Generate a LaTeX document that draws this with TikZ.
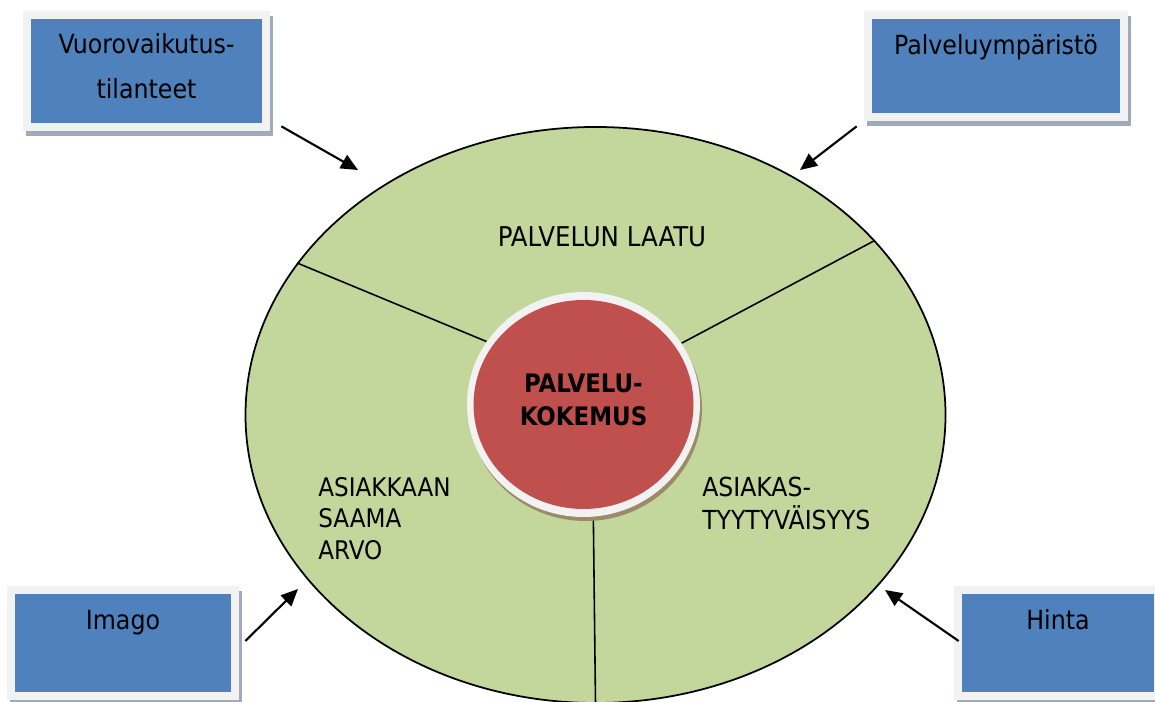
\documentclass[tikz,border=0pt]{standalone}
\usepackage{fontspec}
\setmainfont{DejaVu Sans Condensed}
\usepackage{xcolor}
\usepackage{tikz}
\usetikzlibrary{positioning, arrows.meta, shapes.geometric, shadows, backgrounds}
\definecolor{boxBlue}{HTML}{4F81BD}
\definecolor{frameGray}{HTML}{F2F2F2}
\definecolor{boxShade}{HTML}{A0AABA}
\definecolor{ovalGreen}{HTML}{C3D69B}
\definecolor{coreRed}{HTML}{C0504D}
\definecolor{coreShade}{HTML}{9C8B6A}

\tikzset{
  factor/.style={fill=frameGray, inner sep=0pt, align=center,
    font=\fontsize{15}{25.5}\selectfont,
    drop shadow={shadow xshift=0.06cm, shadow yshift=-0.11cm, fill=boxShade, opacity=1},
    path picture={\fill[boxBlue] ([shift={(0.16cm,0.16cm)}]path picture bounding box.south west)
      rectangle ([shift={(-0.16cm,-0.16cm)}]path picture bounding box.north east);}},
  part/.style={inner sep=0pt, align=left},
  arr/.style={-{Triangle[length=0.34cm, width=0.3cm]}, line width=1.2pt},
}

\begin{document}
\begin{tikzpicture}
        \useasboundingbox (0,0) rectangle (23.1,14.04);
        % Core — PALVELUKOKEMUS
        \node[ellipse, fill=frameGray, minimum width=4.66cm, minimum height=4.5cm, inner sep=0pt,
          drop shadow={shadow xshift=0.04cm, shadow yshift=-0.08cm, fill=coreShade, opacity=1},
          path picture={\fill[coreRed] (path picture bounding box.center) ellipse [x radius=2.2cm, y radius=2.09cm];},
          align=center, text depth=0.2cm, font=\bfseries\fontsize{14.5}{18.7}\selectfont] (core) at (11.67,5.95) {PALVELU-\\KOKEMUS};
        % Oval and its three parts — behind the core
        \begin{pgfonlayer}{background}
          \node[ellipse, draw, line width=1pt, fill=ovalGreen, minimum width=14cm, minimum height=11.52cm,
            inner sep=0pt] (oval) at (11.91,5.74) {};
          \draw[line width=0.9pt] (oval.153) -- (core.147);
          \draw[line width=0.9pt] (oval.32.9) -- (core.32.4);
          \draw[line width=0.9pt] (oval.270.5) -- (core.275.5);
        \end{pgfonlayer}
        \node[part, anchor=base, font=\fontsize{15.5}{18}\selectfont] (laatu) at (12.04,9.10) {PALVELUN LAATU};
        \node[part, anchor=north west, font=\fontsize{14.6}{17.9}\selectfont] (arvo) at (6.36,4.5) {ASIAKKAAN\\SAAMA\\ARVO};
        \node[part, anchor=north west, font=\fontsize{14.9}{18.7}\selectfont] (tyyty) at (14.04,4.5) {ASIAKAS-\\TYYTYVÄISYYS};
        % Factors — corners
        \node[factor, minimum width=4.94cm, minimum height=2.4cm, text depth=0.2cm] (vuoro) at (2.93,12.62) {Vuorovaikutus-\\tilanteet};
        \node[factor, minimum width=5.28cm, minimum height=2.2cm, text height=0.3cm, text depth=0.74cm]
          (ymparisto) at (19.92,12.72) {Palveluympäristö};
        \node[factor, minimum width=4.64cm, minimum height=2.28cm, text height=0.3cm, text depth=0.82cm]
          (imago) at (2.46,1.18) {Imago};
        \node[factor, minimum width=4.16cm, minimum height=2.28cm, text height=0.3cm, text depth=0.82cm]
          (hinta) at (21.16,1.18) {Hinta};
        % Arrows into the oval
        \coordinate (tipVuoro) at (7.16,10.64);
        \coordinate (tipYmp) at (16.0,10.64);
        \coordinate (tipImago) at (5.96,2.26);
        \coordinate (tipHinta) at (17.7,2.24);
        \draw[arr] ([shift={(0.22cm,0.10cm)}]vuoro.south east) -- (tipVuoro);
        \draw[arr] ([shift={(-0.14cm,-0.10cm)}]ymparisto.south west) -- (tipYmp);
        \draw[arr] ([shift={(0.12cm,0.04cm)}]imago.east) -- (tipImago);
        \draw[arr] ([shift={(0.10cm,0.04cm)}]hinta.west) -- (tipHinta);
      \end{tikzpicture}
\end{document}
